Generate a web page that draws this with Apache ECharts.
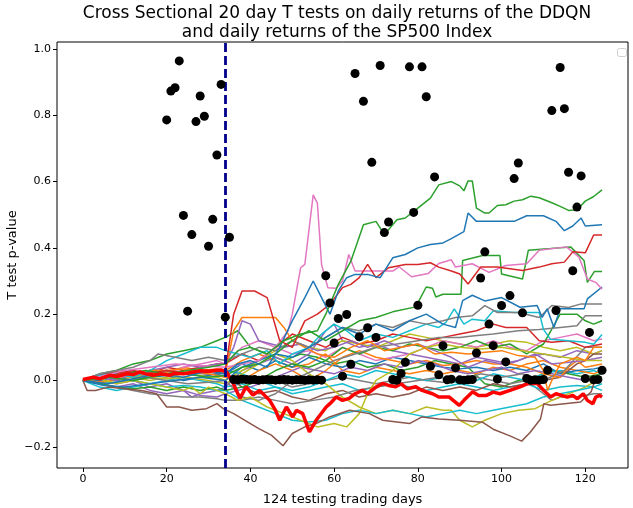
<!DOCTYPE html>
<html>
<head>
<meta charset="utf-8">
<script src="https://cdn.jsdelivr.net/npm/echarts@6/dist/echarts.min.js"></script>
<style>
  html, body { margin: 0; padding: 0; background: #fff; }
  #chart { width: 633px; height: 508px; }
</style>
</head>
<body>
<div id="chart"></div>
<script>
// tick labels
const xTicks = [0, 20, 40, 60, 80, 100, 120]
const yTicks = [-0.2, 0, 0.2, 0.4, 0.6, 0.8, 1.0]
const splitDay = 34

// p-values of the daily t test, one dot per day from day 20
const dotDays = [20, 21, 22, 23, 24, 25, 26, 27, 28, 29, 30, 31, 32, 33, 34, 35,
  36, 37, 38, 39, 40, 41, 42, 43, 44, 45, 46, 47, 48, 49, 50, 51, 52, 53, 54, 55, 56, 57,
  58, 59, 60, 61, 62, 63, 64, 65, 66, 67, 68, 69, 70, 71, 72, 73, 74, 75, 76, 77, 78, 79,
  80, 81, 82, 83, 84, 85, 86, 87, 88, 89, 90, 91, 92, 93, 94, 95, 96, 97, 98, 99,
  100, 101, 102, 103, 104, 105, 106, 107, 108, 109, 110, 111, 112, 113, 114, 115, 116, 117, 118, 119,
  120, 121, 122, 123, 124]
const dotP = [0.786, 0.873, 0.883, 0.964, 0.498, 0.209, 0.440, 0.781, 0.858, 0.797, 0.405, 0.486, 0.680, 0.893, 0.191, 0.432,
  0.003, 0.002, 0.004, 0.003, 0.002, 0.003, 0.001, 0.002, 0.003, 0.002, 0.001, 0.002, 0.003, 0.002, 0.001, 0.002, 0.002, 0.001, 0.002, 0.001, 0.002, 0.001,
  0.316, 0.234, 0.113, 0.187, 0.013, 0.199, 0.049, 0.926, 0.132, 0.842, 0.159, 0.658, 0.130, 0.950, 0.446, 0.478, 0.003, 0.001, 0.021, 0.055, 0.946, 0.507,
  0.227, 0.946, 0.856, 0.043, 0.614, 0.017, 0.105, 0.002, 0.004, 0.038, 0.002, 0.001, 0.002, 0.003, 0.083, 0.309, 0.388, 0.170, 0.105, 0.004,
  0.226, 0.056, 0.256, 0.609, 0.656, 0.204, 0.006, 0.001, 0.002, 0.001, 0.003, 0.031, 0.814, 0.211, 0.944, 0.820, 0.628, 0.331, 0.523, 0.617,
  0.006, 0.145, 0.002, 0.003, 0.031]

// cumulative return differences, [day, value] vertices
const greenTop = [[0,0],[5,0.01],[10,0.02],[15,0.03],[20,0.02],[25,0.03],[30,0.04],[34,0.05],[37,0.09],[40,0.1],[44,0.08],[48,0.12],[52,0.14],[56,0.15],[58,0.2],[61,0.29],[64,0.36],[67,0.47],[70,0.48],[72,0.44],[75,0.485],[77,0.49],[80,0.52],[83,0.55],[85,0.59],[88,0.6],[90,0.587],[91,0.572],[92,0.602],[93,0.602],[94,0.52],[96,0.505],[97,0.505],[99,0.528],[101,0.53],[103,0.541],[105,0.545],[107,0.556],[109,0.551],[112,0.536],[114,0.525],[116,0.513],[118,0.515],[120,0.541],[122,0.555],[124,0.575]]
const blueTop = [[0,0],[6,-0.01],[12,0.005],[18,0.02],[24,0.01],[30,0.03],[34,0.02],[37,0.05],[40,0.06],[44,0.04],[47,0.1],[50,0.18],[53,0.25],[55,0.3],[57,0.25],[59,0.2],[61,0.27],[63,0.31],[65,0.32],[68,0.32],[71,0.31],[74,0.37],[77,0.38],[80,0.4],[83,0.41],[86,0.415],[88,0.428],[91,0.449],[92,0.505],[94,0.48],[103,0.48],[106,0.497],[110,0.497],[113,0.48],[115,0.452],[117,0.466],[119,0.49],[120,0.466],[124,0.47]]
const redTop = [[0,0],[5,0.01],[10,0.025],[15,0.02],[20,0.03],[26,0.02],[30,0.025],[34,0.03],[36,0.2],[38,0.27],[41,0.27],[44,0.25],[47,0.12],[50,0.1],[53,0.18],[56,0.2],[59,0.23],[62,0.28],[64,0.29],[66,0.31],[68,0.35],[70,0.31],[73,0.34],[77,0.35],[80,0.35],[83,0.355],[85,0.342],[88,0.33],[90,0.321],[92,0.291],[95,0.342],[99,0.342],[105,0.332],[109,0.342],[112,0.352],[115,0.357],[117,0.388],[120,0.385],[122,0.439],[124,0.439]]
const pinkSpike = [[0,0],[5,0.015],[10,0.03],[16,0.04],[22,0.05],[28,0.045],[34,0.04],[38,0.05],[42,0.06],[46,0.1],[49,0.15],[50,0.2],[52,0.34],[53,0.35],[55,0.56],[56,0.535],[57,0.35],[58.5,0.28],[60.5,0.278],[62,0.3],[63.5,0.38],[65,0.33],[74,0.33],[75.5,0.343],[78.5,0.313],[82.5,0.323],[85,0.353],[88,0.364],[89,0.342],[93,0.352],[97,0.326],[101,0.347],[106,0.352],[109,0.393],[115.5,0.403],[118.5,0.372],[120.5,0.306],[122.5,0.296],[124,0.275]]
const greenMid = [[0,0],[6,0.01],[12,0],[18,0.015],[24,0.02],[30,0.01],[34,0.015],[38,0.04],[42,0.05],[46,0.08],[50,0.12],[54,0.15],[58,0.12],[62,0.15],[66,0.18],[70,0.19],[74,0.207],[79.5,0.222],[82,0.282],[83.5,0.278],[84.3,0.252],[86,0.26],[90.3,0.26],[90.7,0.362],[95.5,0.377],[99.6,0.377],[100,0.321],[105,0.306],[106.4,0.393],[111.7,0.398],[116.5,0.403],[119.7,0.362],[120.5,0.296],[122.2,0.329],[124,0.329]]
const blueMid = [[0,0],[5,-0.015],[10,-0.02],[16,-0.01],[22,0],[28,0.01],[34,0],[38,0.04],[42,0.06],[46,0.08],[50,0.07],[54,0.1],[58,0.13],[62,0.16],[66,0.14],[70,0.17],[74,0.15],[78,0.18],[82,0.2],[86,0.17],[89,0.16],[90.7,0.241],[93,0.257],[96,0.24],[100,0.25],[104.4,0.221],[108.5,0.226],[109.7,0.19],[110.9,0.216],[112.5,0.16],[114,0.216],[119.7,0.216],[120.5,0.246],[124,0.282]]
const cyanMid = [[0,0],[4,0.015],[8,0.02],[12,0.01],[16,0.03],[20,0.06],[24,0.08],[28,0.1],[32,0.1],[34,0.09],[37,0.08],[40,0.07],[44,0.09],[47,0.05],[50,0.08],[54,0.1],[57,0.14],[60,0.17],[63,0.15],[66,0.12],[70,0.14],[74,0.13],[78,0.15],[82,0.17],[85,0.16],[86.7,0.175],[88.7,0.216],[91,0.17],[93,0.185],[96,0.18],[98,0.21],[103,0.205],[109,0.205],[110,0.154],[111.7,0.124],[116,0.12],[120,0.115],[122,0.109],[124,0.139]]
const grayTop = [[0,0],[4,0.02],[8,0.03],[12,0.04],[16,0.06],[18,0.08],[22,0.07],[26,0.06],[30,0.07],[34,0.06],[38,0.08],[42,0.1],[46,0.09],[50,0.12],[54,0.1],[58,0.13],[62,0.16],[66,0.15],[70,0.17],[74,0.16],[78,0.18],[82,0.17],[86,0.18],[89,0.19],[93,0.195],[96,0.226],[99,0.205],[104,0.205],[109,0.19],[112,0.226],[116,0.22],[119,0.231],[124,0.231]]
const grayMid = [[0,0],[5,0.01],[10,-0.005],[15,0.01],[20,0],[25,-0.01],[30,-0.005],[34,0],[38,-0.05],[42,-0.06],[46,-0.04],[50,0],[55,0.03],[60,0.06],[65,0.08],[70,0.1],[75,0.11],[80,0.12],[85,0.13],[90,0.13],[93,0.134],[98,0.14],[104,0.15],[109,0.154],[114,0.16],[118,0.165],[120,0.195],[124,0.195]]
const grayLow = [[0,0],[4,-0.01],[8,-0.02],[12,-0.03],[16,-0.04],[20,-0.045],[24,-0.05],[28,-0.05],[32,-0.055],[34,-0.06],[38,-0.06],[42,-0.05],[46,-0.06],[50,-0.07],[55,-0.06],[60,-0.05],[65,-0.03],[70,-0.02],[75,-0.01],[80,0],[85,0.01],[90,0],[95,0.02],[100,0.01],[105,0.02],[110,0],[115,0.03],[120,0.1],[124,0.1]]
const orangeA = [[0,0],[4,0.01],[8,0.02],[12,0.02],[16,0.03],[20,0.03],[24,0.035],[28,0.03],[32,0.03],[34,0.02],[36,0.15],[38,0.19],[42,0.19],[46,0.19],[48,0.16],[50,0.12],[53,0.1],[56,0.08],[60,0.07],[64,0.1],[68,0.12],[72,0.09],[76,0.1],[80,0.11],[84,0.08],[88,0.085],[92,0.08],[96,0.085],[100,0.09],[104,0.075],[108,0.07],[110,0.03],[111,-0.03],[112,0],[114,0.05],[116,0.06],[118,0.07],[120,0.06],[122,0.1],[124,0.1]]
const orangeB = [[0,0],[5,-0.005],[10,0.01],[15,0.02],[20,0.02],[25,0.03],[30,0.02],[34,0.01],[38,0],[42,0.03],[46,0.05],[50,0.03],[54,0],[58,0.03],[62,0.07],[66,0.09],[70,0.07],[74,0.06],[78,0.05],[82,0.06],[86,0.045],[90,0.05],[94,0.06],[98,0.05],[102,0.05],[106,0.04],[110,0.02],[114,0.01],[116,0.04],[118,0.06],[120,0.04],[124,0.05]]
const purpleA = [[0,0],[4,0.01],[8,0],[12,0.02],[16,0.03],[20,0.04],[24,0.05],[28,0.04],[32,0.05],[34,0.05],[36,0.1],[38,0.18],[40,0.17],[42,0.12],[45,0.11],[48,0.1],[52,0.11],[56,0.09],[60,0.1],[64,0.12],[68,0.1],[72,0.12],[76,0.1],[80,0.11],[84,0.09],[88,0.07],[92,0.04],[96,0.06],[100,0.05],[104,0.06],[108,0.08],[112,0.05],[116,0.055],[120,0.06],[124,0.07]]
const purpleB = [[0,0],[4,-0.01],[8,-0.02],[12,-0.01],[16,-0.03],[20,-0.04],[24,-0.03],[28,-0.045],[32,-0.05],[34,-0.04],[37,-0.03],[40,-0.02],[44,0],[48,0.02],[52,0.04],[56,0.03],[60,0.02],[64,0.04],[68,0.03],[72,0.05],[76,0.04],[80,0.06],[84,0.05],[88,0.03],[92,0.02],[96,0.03],[100,0.04],[104,0.02],[108,0.03],[112,0.02],[116,0.01],[120,0],[124,0.01]]
const oliveA = [[0,0],[4,0.005],[8,-0.01],[12,0],[16,-0.01],[20,-0.02],[24,-0.03],[26,-0.02],[28,-0.04],[30,-0.02],[32,-0.03],[34,-0.04],[37,-0.06],[40,-0.05],[44,-0.08],[48,-0.1],[52,-0.12],[56,-0.14],[60,-0.13],[63,-0.14],[66,-0.1],[68,-0.04],[70,0],[74,0.03],[78,0.08],[82,0.1],[86,0.11],[90,0.1],[95,0.095],[100,0.1],[105,0.09],[110,0.08],[115,0.07],[120,0.06],[124,0.06]]
const oliveB = [[0,0],[5,0.01],[10,0.02],[15,0.01],[20,0.005],[25,0.01],[30,0],[34,-0.01],[38,0.02],[42,0.05],[46,0.08],[50,0.06],[54,0.02],[58,-0.01],[62,-0.05],[66,-0.08],[70,-0.1],[74,-0.09],[78,-0.1],[82,-0.08],[86,-0.09],[88,-0.09],[90,-0.12],[93,-0.14],[96,-0.12],[100,-0.1],[104,-0.09],[108,-0.085],[112,-0.06],[116,-0.04],[120,-0.02],[124,0.01]]
const cyanLow = [[0,0],[4,-0.02],[8,-0.03],[12,-0.02],[16,-0.01],[20,-0.02],[24,-0.015],[28,-0.02],[32,-0.03],[34,-0.03],[38,-0.06],[42,-0.08],[46,-0.1],[50,-0.12],[54,-0.125],[58,-0.12],[62,-0.1],[66,-0.09],[70,-0.1],[74,-0.09],[78,-0.1],[82,-0.11],[86,-0.1],[90,-0.09],[94,-0.1],[98,-0.09],[102,-0.08],[106,-0.07],[110,-0.05],[114,-0.04],[118,-0.03],[122,-0.02],[124,-0.03]]
const redMid = [[0,0],[4,0.01],[8,0.02],[12,0.03],[16,0.02],[20,0.04],[24,0.03],[28,0.04],[32,0.05],[34,0.05],[38,0.08],[42,0.06],[46,0.1],[50,0.14],[54,0.12],[58,0.1],[62,0.13],[66,0.11],[70,0.12],[74,0.14],[78,0.13],[82,0.12],[86,0.13],[90,0.14],[94,0.15],[98,0.17],[101,0.16],[106,0.16],[109,0.12],[112,0.115],[116,0.12],[120,0.1],[124,0.11]]
const greenLow = [[0,0],[4,-0.01],[8,-0.02],[12,-0.025],[16,-0.02],[20,-0.03],[24,-0.02],[28,-0.03],[32,-0.02],[34,-0.03],[38,-0.02],[42,0],[46,0.03],[50,0.05],[54,0.04],[58,0.06],[62,0.1],[66,0.08],[70,0.1],[74,0.09],[78,0.11],[82,0.1],[86,0.09],[90,0.1],[94,0.12],[98,0.1],[102,0.11],[106,0.08],[110,0.11],[114,0.2],[118,0.2],[120,0.18],[122,0.17],[124,0.18]]
const brownLow = [[0,0],[1,-0.03],[3,-0.03],[6,-0.02],[10,-0.025],[14,-0.03],[17.6,-0.04],[20,-0.08],[23,-0.08],[26,-0.09],[29.5,-0.085],[32,-0.07],[33.5,-0.085],[36,-0.1],[40,-0.13],[42,-0.145],[45,-0.165],[47.8,-0.197],[50,-0.16],[53,-0.14],[55.7,-0.13],[58.9,-0.11],[63.7,-0.09],[68.4,-0.1],[71.6,-0.12],[75,-0.125],[78,-0.13],[81,-0.11],[85,-0.116],[90,-0.12],[95.5,-0.126],[98,-0.147],[102,-0.167],[104.8,-0.183],[106.8,-0.157],[109.3,-0.116],[110.1,-0.07],[111.7,-0.075],[118.9,-0.065],[121.4,-0.034],[122.2,-0.004],[124,0.006]]
const brownMid = [[0,0],[5,0.02],[10,0.03],[15,0.025],[20,0.03],[25,0.02],[30,0.03],[34,0.02],[38,-0.02],[42,-0.04],[46,-0.03],[50,-0.05],[54,-0.06],[58,-0.04],[62,-0.03],[66,-0.05],[70,-0.04],[74,-0.05],[78,-0.04],[82,-0.02],[86,-0.03],[90,-0.02],[94,-0.03],[98,-0.01],[102,-0.02],[106,-0.01],[110,0],[114,0.01],[118,0.05],[120,0.06],[122,0.08],[124,0.08]]
const pinkMid = [[0,0],[4,0.01],[8,0.005],[12,0.02],[16,0.03],[20,0.02],[24,0.04],[28,0.05],[32,0.06],[34,0.05],[38,0.1],[42,0.12],[46,0.1],[50,0.08],[54,0.09],[58,0.07],[62,0.1],[66,0.08],[70,0.06],[74,0.07],[78,0.08],[82,0.1],[86,0.12],[90,0.11],[94,0.1],[98,0.12],[102,0.1],[106,0.09],[110,0.12],[114,0.13],[118,0.14],[122,0.12],[124,0.125]]
const blueLow = [[0,0],[4,0],[8,0.01],[12,0],[16,0.01],[20,0.015],[24,0],[28,0.01],[32,0.02],[34,0.02],[38,0.05],[42,0.03],[46,0.06],[50,0.04],[54,0.07],[58,0.05],[62,0.04],[66,0.06],[70,0.05],[74,0.07],[78,0.06],[82,0.05],[86,0.04],[90,0.035],[94,0.04],[98,0.03],[102,0.04],[106,0.03],[110,0.05],[114,0.02],[118,0.03],[122,0.035],[124,0.04]]
const cyanFlat = [[0,0],[4,-0.01],[8,-0.005],[12,0],[16,-0.01],[20,0],[24,0.01],[28,0],[32,-0.01],[34,-0.02],[38,-0.01],[42,-0.03],[46,-0.02],[50,-0.04],[54,-0.03],[58,-0.02],[62,-0.01],[66,-0.03],[70,-0.02],[74,-0.01],[78,-0.02],[82,-0.03],[86,-0.02],[90,-0.01],[94,-0.02],[98,-0.03],[102,-0.02],[106,-0.01],[110,-0.03],[114,-0.02],[118,-0.015],[122,-0.02],[124,-0.01]]
const orangeC = [[0,0],[4,0.015],[8,0.025],[12,0.015],[16,0.03],[20,0.025],[24,0.04],[28,0.03],[32,0.035],[34,0.03],[38,0.06],[42,0.08],[46,0.06],[50,0.04],[54,0.05],[58,0.08],[62,0.03],[66,0.02],[70,0.04],[74,0.03],[78,0.02],[82,0.03],[86,0.02],[90,0.03],[94,0.02],[98,0.04],[102,0.03],[106,0.05],[110,0.06],[114,0.04],[118,0.03],[122,0.02],[124,0.03]]
const greenEarly = [[0,0],[4,0.02],[8,0.03],[12,0.05],[16,0.06],[20,0.08],[24,0.09],[28,0.1],[32,0.12],[34,0.13],[37,0.15],[40,0.1],[44,0.08],[48,0.06],[52,0.08],[56,0.07],[60,0.05],[64,0.06],[68,0.04],[72,0.05],[76,0.03],[80,0.04],[84,0.06],[88,0.05],[92,0.04],[96,-0.01],[100,-0.02],[104,0],[108,0.01],[112,0.03],[116,0.02],[120,0.01],[124,0.02]]
const purpleC = [[0,0],[4,0],[8,-0.01],[12,0],[16,-0.02],[20,-0.01],[24,-0.03],[26,-0.05],[28,-0.04],[32,-0.03],[34,-0.02],[38,0.03],[42,0.05],[46,0.07],[50,0.05],[54,0.08],[58,0.15],[60,0.17],[62,0.12],[66,0.1],[70,0.11],[74,0.09],[78,0.08],[82,0.07],[86,0.06],[90,0.05],[94,0.07],[98,0.06],[102,0.05],[106,0.07],[110,0.08],[114,0.07],[118,0.09],[122,0.08],[124,0.09]]
const grayFlat = [[0,0],[4,0.02],[8,0.015],[12,0.01],[16,0.02],[20,0.03],[24,0.02],[28,0.015],[32,0.02],[34,0.01],[38,0],[42,-0.01],[46,0],[50,-0.02],[54,-0.01],[58,0],[62,0.01],[66,0],[70,-0.01],[74,0],[78,0.01],[82,0],[86,-0.005],[90,0],[94,0.01],[98,0],[102,-0.01],[106,0],[110,-0.04],[112,-0.06],[114,-0.05],[118,-0.05],[122,-0.04],[124,-0.04]]
const oliveC = [[0,0],[4,-0.005],[8,0],[12,0.01],[16,0],[20,0.01],[24,0.02],[28,0.015],[32,0.01],[34,0],[38,0.03],[42,0.06],[46,0.09],[50,0.12],[54,0.1],[58,0.09],[62,0.12],[66,0.11],[70,0.1],[74,0.12],[78,0.14],[82,0.13],[86,0.12],[90,0.11],[94,0.1],[98,0.11],[102,0.12],[106,0.115],[110,0.1],[114,0.09],[118,0.1],[122,0.08],[124,0.09]]
const cyanSmall = [[0,0],[4,0.02],[8,0.01],[12,0.02],[16,0.015],[20,0.03],[24,0.02],[28,0.025],[32,0.03],[34,0.03],[38,0.02],[42,0],[46,-0.02],[50,-0.03],[54,-0.02],[58,0],[62,0.02],[66,0.01],[70,0.03],[74,0.02],[78,0.01],[82,0],[86,0.01],[90,-0.01],[94,0],[98,0.02],[102,0.01],[106,0],[110,0.02],[114,0.03],[118,0.02],[122,0.03],[124,0.02]]
// the agent's own curve, drawn thick in pure red
const agentLine = [[0,0.003],[2.5,0.01],[4,0.005],[6.5,0.016],[8,0.012],[10.5,0.02],[12,0.018],[13.6,0.026],[15,0.02],[16.8,0.016],[18.4,0.02],[20.8,0.016],[22,0.022],[24,0.02],[26,0.025],[27.9,0.029],[30,0.028],[31.9,0.031],[33,0.032],[34.3,0.026],[35.9,-0.009],[37.5,-0.054],[39,-0.019],[40.6,-0.044],[42.2,-0.03],[44.6,-0.06],[46,-0.09],[47,-0.12],[48.6,-0.08],[50.1,-0.11],[51,-0.09],[52.5,-0.1],[54.1,-0.155],[55.7,-0.12],[58.1,-0.08],[59,-0.07],[60.5,-0.05],[62,-0.06],[63.6,-0.054],[65,-0.04],[66.8,-0.03],[68,-0.04],[70,-0.02],[71.6,-0.009],[73,-0.015],[74.7,-0.019],[76,-0.01],[77.5,-0.025],[79.5,-0.019],[81,-0.03],[83.5,-0.04],[85,-0.05],[87.5,-0.05],[89.9,-0.075],[91,-0.06],[93.1,-0.034],[94.5,-0.045],[96.4,-0.045],[98,-0.035],[99.6,-0.04],[102,-0.03],[104.4,-0.019],[106.4,-0.009],[108.5,-0.009],[110.1,-0.03],[111.7,-0.05],[113,-0.04],[115.7,-0.05],[117,-0.045],[118.1,-0.055],[119.5,-0.04],[120.5,-0.06],[121.8,-0.07],[122.5,-0.05],[123.4,-0.045],[124,-0.05]]

const C = {
  blue: '#1f77b4', orange: '#ff7f0e', green: '#2ca02c', red: '#d62728', purple: '#9467bd',
  brown: '#8c564b', pink: '#e377c2', gray: '#7f7f7f', olive: '#bcbd22', cyan: '#17becf',
}

const thinLines = [
  [greenEarly, C.green], [purpleC, C.purple], [grayFlat, C.gray], [oliveC, C.olive], [cyanSmall, C.cyan],
  [orangeC, C.orange], [blueLow, C.blue], [cyanFlat, C.cyan], [pinkMid, C.pink], [brownMid, C.brown],
  [orangeB, C.orange], [purpleB, C.purple], [oliveB, C.olive], [cyanLow, C.cyan], [grayLow, C.gray],
  [greenLow, C.green], [redMid, C.red], [grayMid, C.gray], [purpleA, C.purple], [oliveA, C.olive],
  [orangeA, C.orange], [cyanMid, C.cyan], [grayTop, C.gray], [blueMid, C.blue], [greenMid, C.green],
  [brownLow, C.brown], [pinkSpike, C.pink], [redTop, C.red], [blueTop, C.blue], [greenTop, C.green],
]

const FONT = 'DejaVu Sans'
const fmtY = v => (v < 0 ? '\u2212' : '') + Math.abs(v).toFixed(1)

const series = thinLines.map(([data, color]) => ({
  type: 'line',
  data,
  symbol: 'none',
  silent: true,
  z: 2,
  lineStyle: { color, width: 1.5 },
}))

series.push({
  type: 'line',
  data: agentLine,
  symbol: 'none',
  silent: true,
  z: 3,
  lineStyle: { color: '#ff0000', width: 3.5 },
  markLine: {
    silent: true,
    symbol: ['none', 'none'],
    label: { show: false },
    lineStyle: { color: '#00008b', width: 2.8, type: [9, 4] },
    data: [{ xAxis: splitDay }],
  },
})

series.push({
  type: 'scatter',
  data: dotDays.map((d, i) => [d, dotP[i]]),
  symbol: 'circle',
  symbolSize: 9,
  silent: true,
  z: 5,
  itemStyle: { color: '#000', opacity: 1 },
})

const chart = echarts.init(document.getElementById('chart'), null, { renderer: 'canvas' })
chart.setOption({
  animation: false,
  backgroundColor: '#fff',
  textStyle: { fontFamily: FONT },
  title: {
    text: 'Cross Sectional 20 day T tests on daily returns of the DDQN\nand daily returns of the SP500 Index',
    left: 332,
    top: -1,
    textAlign: 'center',
    textStyle: { fontFamily: FONT, fontSize: 17, fontWeight: 'normal', color: '#000', lineHeight: 19 },
  },
  grid: {
    left: 57, right: 5, top: 42, bottom: 40,
    outerBoundsMode: 'none',
    show: true, borderColor: '#000', borderWidth: 1, backgroundColor: 'transparent',
  },
  xAxis: {
    type: 'value',
    min: -6.2,
    max: 130.2,
    name: '124 testing trading days',
    nameLocation: 'middle',
    nameGap: 25,
    nameTextStyle: { fontFamily: FONT, fontSize: 13, color: '#000' },
    axisLine: { show: false, onZero: false },
    splitLine: { show: false },
    axisTick: { show: true, customValues: xTicks, length: 4, lineStyle: { color: '#000' } },
    axisLabel: { customValues: xTicks, fontFamily: FONT, fontSize: 11, color: '#000', margin: 6 },
  },
  yAxis: {
    type: 'value',
    min: -0.264,
    max: 1.021,
    name: 'T test p-value',
    nameLocation: 'middle',
    nameGap: 38,
    nameMoveOverlap: false,
    nameTextStyle: { fontFamily: FONT, fontSize: 13, color: '#000' },
    axisLine: { show: false, onZero: false },
    splitLine: { show: false },
    axisTick: { show: true, customValues: yTicks, length: 4, lineStyle: { color: '#000' } },
    axisLabel: { customValues: yTicks, formatter: fmtY, fontFamily: FONT, fontSize: 11, color: '#000', margin: 6 },
  },
  graphic: [{
    type: 'rect',
    left: 617, top: 48,
    shape: { width: 9, height: 8, r: 2 },
    style: { fill: '#fff', stroke: '#d0d0d0', lineWidth: 1 },
    silent: true,
  }],
  series,
})
</script>
</body>
</html>
